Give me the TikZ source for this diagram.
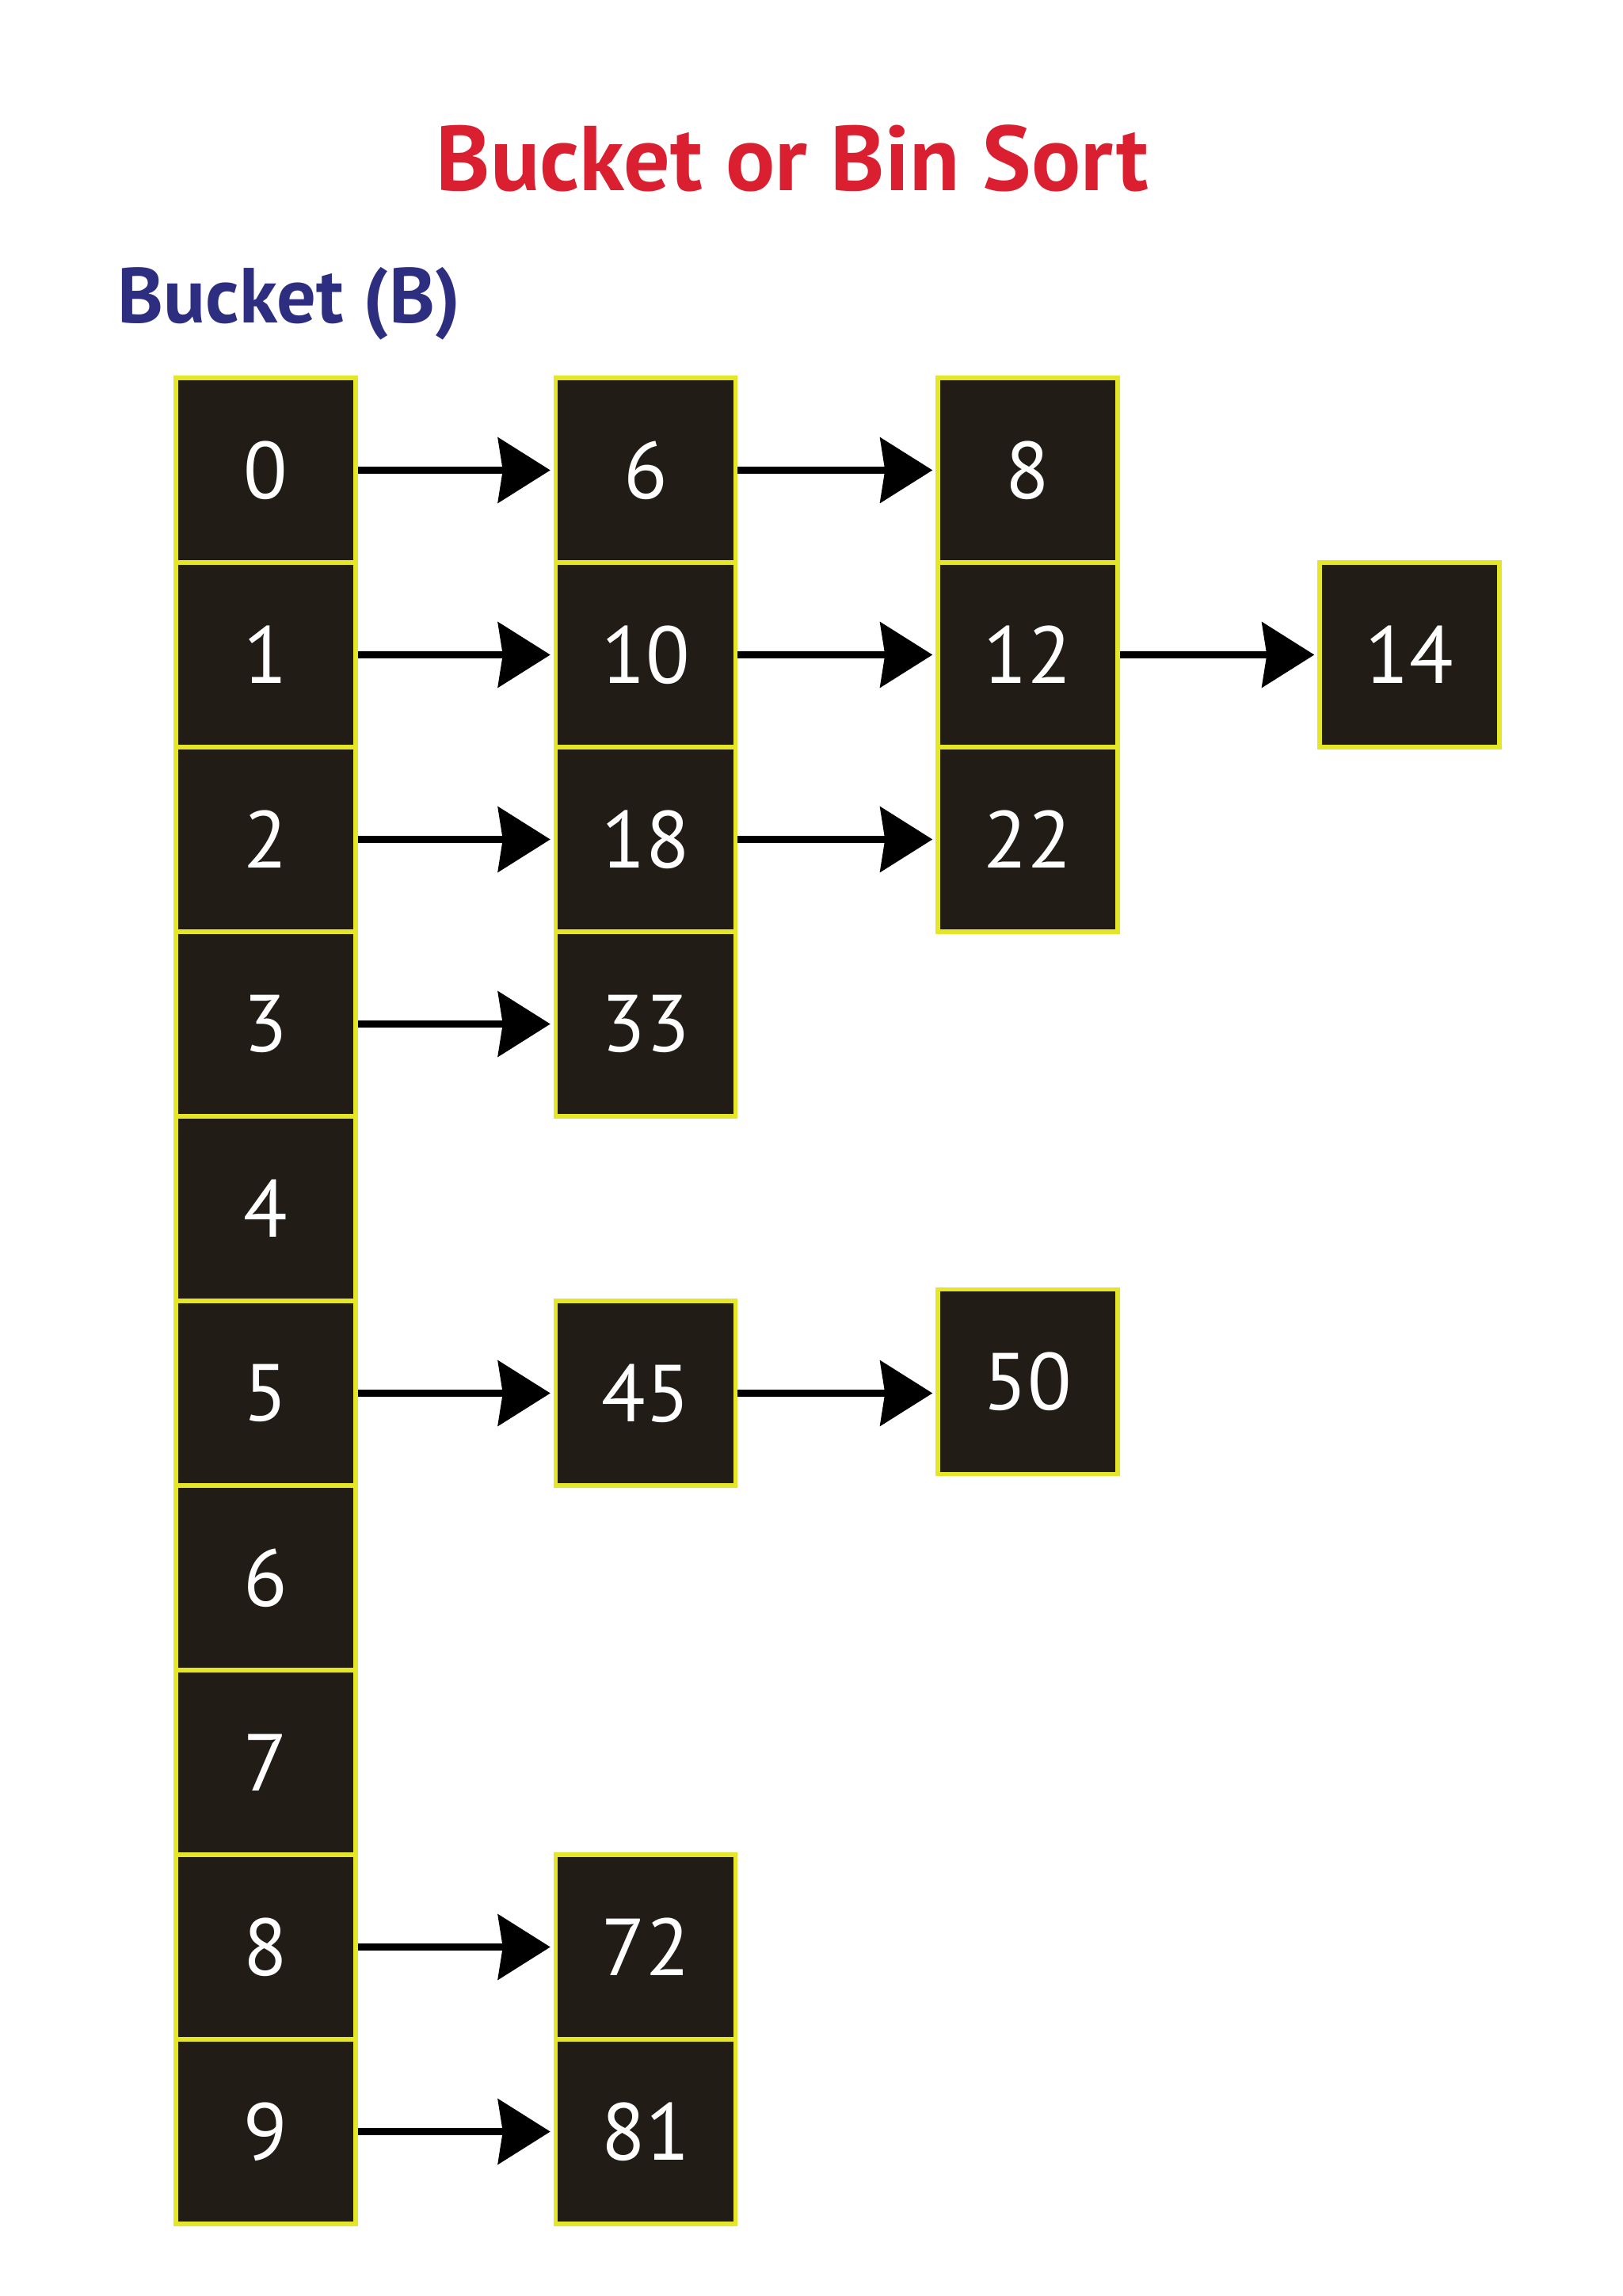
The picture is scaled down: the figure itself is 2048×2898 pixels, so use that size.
\documentclass[tikz,border=0pt]{standalone}
\usepackage{fontspec}
\setmainfont{PT Sans}
\usepackage{tikz}
\usetikzlibrary{arrows.meta,positioning}
\definecolor{titlered}{RGB}{218,32,48}
\definecolor{labelnavy}{RGB}{46,46,128}
\definecolor{cellblack}{RGB}{34,28,22}
\definecolor{cellyellow}{RGB}{230,230,40}

\tikzset{
    cell/.style={rectangle,fill=cellblack,draw=cellyellow,line width=1.5pt,
        minimum width=2.27cm,minimum height=2.33cm,inner sep=0pt,
        text=white,font=\fontsize{29}{29}\selectfont},
    link/.style={-{Stealth[length=0.66cm,width=0.82cm,inset=0.06cm]},line width=2.4pt,shorten >=0.04cm}
}

\begin{document}
\begin{tikzpicture}[x=0.01cm,y=-0.01cm]
        \useasboundingbox (0,0) rectangle (2048,2898);

        % Title
        \node[text=titlered,font=\fontsize{33}{33}\bfseries\selectfont] (title) at (1000,200) {Bucket or Bin Sort};
        \node[anchor=west,inner sep=0pt,text=labelnavy,font=\fontsize{28}{28}\bfseries\selectfont] (bucketlabel) at (148,383) {Bucket (B)};

        % Bucket column
        \foreach \i in {0,...,9}
            \node[cell] (b\i) at (335.5,{593.5+233*\i}) {\i};

        % Second column
        \node[cell] (c6) at (815,593.5) {6};
        \node[cell] (c10) at (815,826.5) {10};
        \node[cell] (c18) at (815,1059.5) {18};
        \node[cell] (c33) at (815,1292.5) {33};
        \node[cell] (c45) at (815,1758.5) {45};
        \node[cell] (c72) at (815,2457.5) {72};
        \node[cell] (c81) at (815,2690.5) {81};

        % Third and fourth columns
        \node[cell] (c8) at (1297.5,593.5) {8};
        \node[cell] (c12) at (1297.5,826.5) {12};
        \node[cell] (c22) at (1297.5,1059.5) {22};
        \node[cell] (c50) at (1297.5,1744) {50};
        \node[cell] (c14) at (1779.5,826.5) {14};

        % Links
        \draw[link] (b0) -- (c6);
        \draw[link] (b1) -- (c10);
        \draw[link] (b2) -- (c18);
        \draw[link] (b3) -- (c33);
        \draw[link] (b5) -- (c45);
        \draw[link] (b8) -- (c72);
        \draw[link] (b9) -- (c81);
        \draw[link] (c6) -- (c8);
        \draw[link] (c10) -- (c12);
        \draw[link] (c18) -- (c22);
        \draw[link] (c12) -- (c14);
        \draw[link] (c45.east) -- (c45.east -| c50.west);
    \end{tikzpicture}
\end{document}
